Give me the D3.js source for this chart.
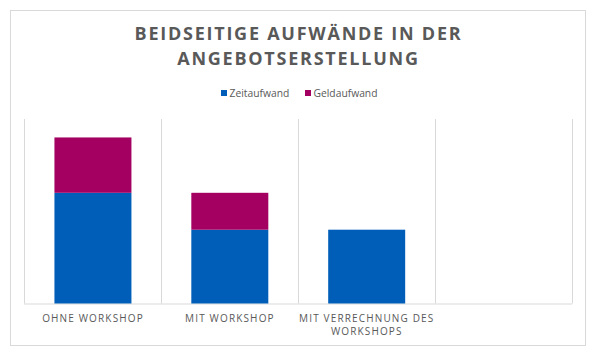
<!DOCTYPE html>
<html><head><meta charset="utf-8">
<script src="https://cdn.jsdelivr.net/npm/d3@7"></script>
<style>body{margin:0;background:#fff}svg{display:block}</style>
</head><body><svg id="c" width="597" height="358"></svg>
<script>
const categories = ["OHNE WORKSHOP", "MIT WORKSHOP", "MIT VERRECHNUNG DES WORKSHOPS", ""];
const categoryLines = [["OHNE WORKSHOP"], ["MIT WORKSHOP"], ["MIT VERRECHNUNG DES", "WORKSHOPS"], [""]];
const seriesNames = ["Zeitaufwand", "Geldaufwand"];
const zeitaufwand = [3, 2, 2, null];
const geldaufwand = [1.5, 1, 0, null];
const yMax = 5;
const titleLines = ["BEIDSEITIGE AUFWÄNDE IN DER", "ANGEBOTSERSTELLUNG"];
const colors = ["#005eb8", "#a30062"];

const svg = d3.select("#c");
const font = "'Open Sans', 'Noto Sans', sans-serif";
svg.append("rect").attr("x",10.5).attr("y",10.5).attr("width",575).attr("height",335)
  .attr("fill","#fff").attr("stroke","#d9d9d9");

const L=24, R=571.5, T=119, B=303.5;
const x = d3.scaleBand().domain(categories.map((c,i)=>i)).range([L,R]).paddingInner(0.4375).paddingOuter(0.21875);
const xg = d3.scaleBand().domain(categories.map((c,i)=>i)).range([L,R]);
const y = d3.scaleLinear().domain([0,yMax]).range([B,T]);

const sep = d3.range(categories.length+1).map(i=> i<categories.length ? xg(i) : R);
svg.append("g").selectAll("line").data(sep).join("line")
  .attr("x1",d=>Math.round(d)+0.5).attr("x2",d=>Math.round(d)+0.5).attr("y1",T).attr("y2",B)
  .attr("stroke","#d9d9d9").attr("stroke-width",1);
svg.append("line").attr("x1",L).attr("x2",R+0.5).attr("y1",B+0.5).attr("y2",B+0.5).attr("stroke","#d9d9d9");

const data = categories.map((c,i)=>({i, z: zeitaufwand[i]||0, g: geldaufwand[i]||0}));
const stack = d3.stack().keys(["z","g"])(data);
svg.append("g").selectAll("g").data(stack).join("g").attr("fill",(d,k)=>colors[k])
  .selectAll("rect").data(d=>d).join("rect")
  .attr("x",d=>x(d.data.i)+0.5).attr("width",x.bandwidth())
  .attr("y",d=>y(d[1])).attr("height",d=>y(d[0])-y(d[1]));

const lab = svg.append("g").attr("font-family",font).attr("font-size","10px").attr("fill","#595959")
  .attr("text-anchor","middle").style("letter-spacing","1.15px");
categoryLines.forEach((lines,i)=>{
  lines.forEach((t,j)=>{
    lab.append("text").attr("x",xg(i)+xg.bandwidth()/2+0.6).attr("y",322+j*12.5).text(t);
  });
});

svg.append("g").attr("font-family",font).attr("font-weight","bold").attr("font-size","18px")
  .attr("fill","#595959").attr("text-anchor","middle").style("letter-spacing","1.75px")
  .selectAll("text").data(titleLines).join("text")
  .attr("x",298.5).attr("y",(d,i)=>40+i*25).text(d=>d);

const lg = svg.append("g").attr("font-family",font).attr("font-size","10.3px").attr("fill","#595959");
const legX = [221, 305];
seriesNames.forEach((s,k)=>{
  lg.append("rect").attr("x",legX[k]).attr("y",90).attr("width",6).attr("height",6).attr("fill",colors[k]);
  lg.append("text").attr("x",legX[k]+8.5).attr("y",96.5).text(s);
});
</script></body></html>
